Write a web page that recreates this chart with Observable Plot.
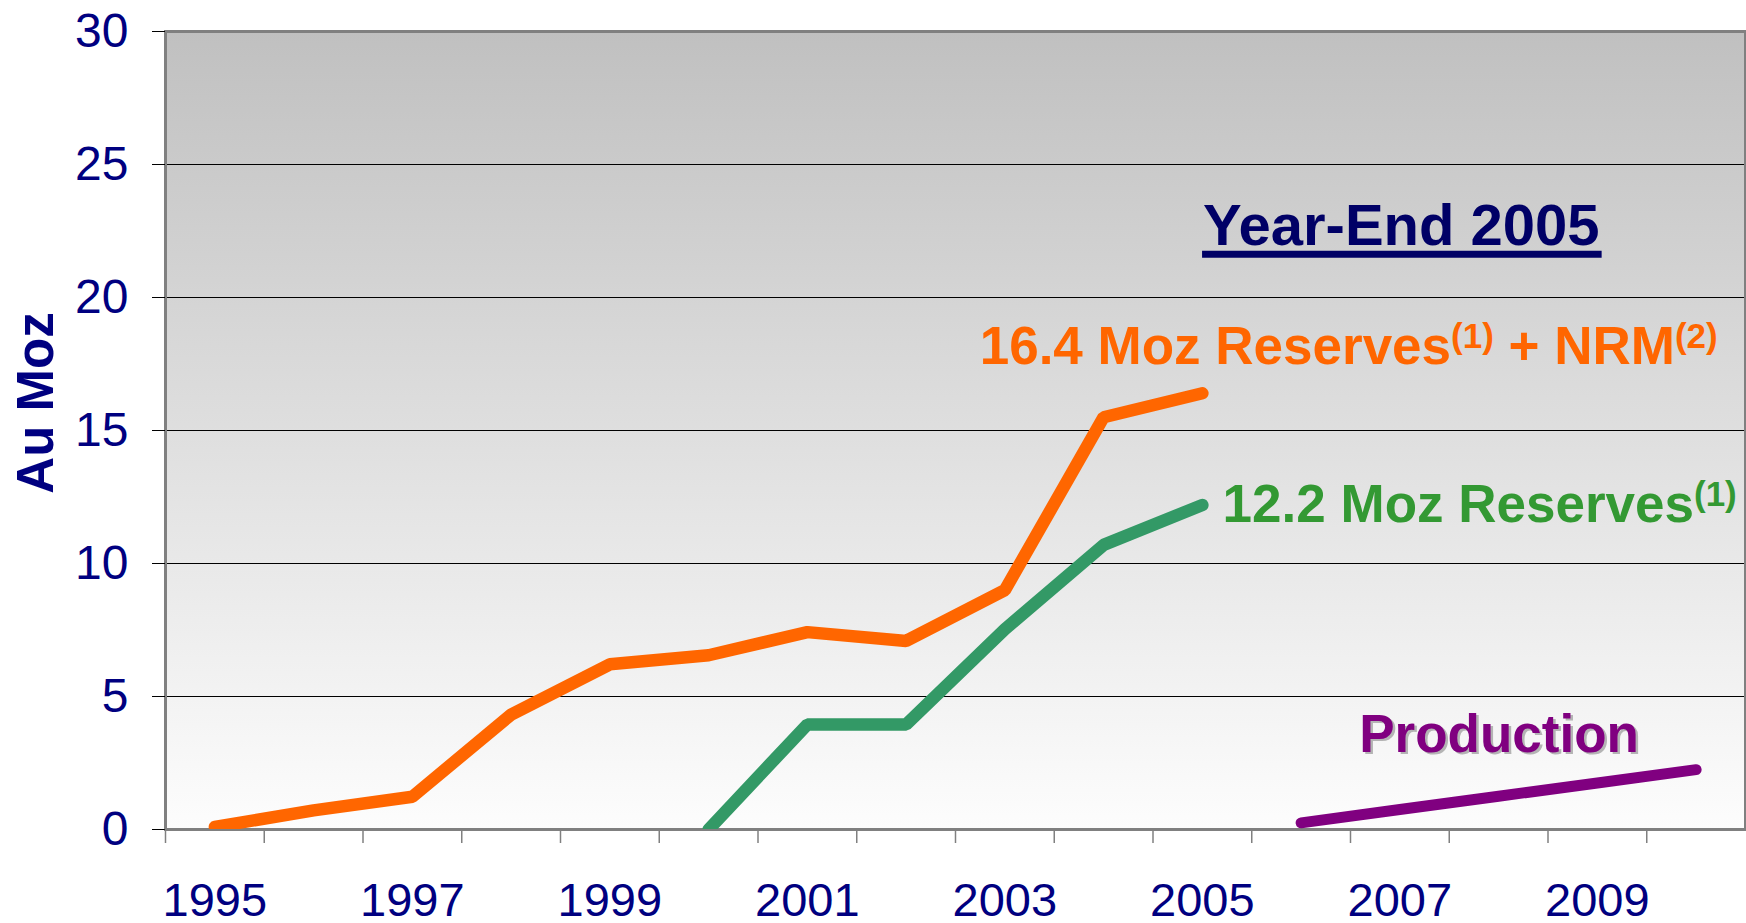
<!DOCTYPE html>
<html>
<head>
<meta charset="utf-8">
<script src="https://cdn.jsdelivr.net/npm/d3@7"></script>
<script src="https://cdn.jsdelivr.net/npm/@observablehq/plot@0.6"></script>
<style>
  html, body { margin: 0; padding: 0; background: #ffffff; }
  #chart svg { display: block; }
</style>
</head>
<body>
<div id="chart"></div>
<script>
// ---------- data ----------
const reservesNrmYears = [1995, 1996, 1997, 1998, 1999, 2000, 2001, 2002, 2003, 2004, 2005];
const reservesNrm      = [0.1, 0.72, 1.23, 4.32, 6.21, 6.55, 7.42, 7.09, 9.0, 15.5, 16.4];

const reservesYears = [2000, 2001, 2002, 2003, 2004, 2005];
const reserves      = [0, 3.95, 3.95, 7.53, 10.7, 12.2];

const productionYears = [2006, 2007, 2008, 2009, 2010];
const production      = [0.25, 0.75, 1.25, 1.75, 2.25];

const xDomain = [1994.5, 2010.5];
const xTickLabels = [1995, 1997, 1999, 2001, 2003, 2005, 2007, 2009];
const xTickMarks = [1994.5, 1995.5, 1996.5, 1997.5, 1998.5, 1999.5, 2000.5, 2001.5, 2002.5, 2003.5, 2004.5, 2005.5, 2006.5, 2007.5, 2008.5, 2009.5];
const yTicks = [0, 5, 10, 15, 20, 25, 30];
const yGrid = [5, 10, 15, 20, 25];
const yTitle = "Au Moz";

// annotation texts: [main, superscript, main, superscript ...]
const titleText = "Year-End 2005";
const nrmLabel = ["16.4 Moz Reserves", "(1)", " + NRM", "(2)"];
const reservesLabel = ["12.2 Moz Reserves", "(1)"];
const productionLabel = "Production";
// annotation anchors in data units (year, Moz)
const titleAt = [2007.02, 21.95];
const nrmLabelAt = [2002.75, 17.48];
const reservesLabelAt = [2005.21, 11.55];
const productionLabelAt = [2008.01, 2.91];

// ---------- styles ----------
const FONT = "'Liberation Sans', Arial, Helvetica, sans-serif";
const NAVY = "#000080";
const ORANGE = "#FF6600";
const GREEN_LINE = "#339966";
const GREEN_TEXT = "#339933";
const PURPLE = "#800080";

const toRows = (xs, vs) => xs.map((x, i) => ({year: x, value: vs[i]}));

const defs = () => {
  const d = d3.create("svg:defs");
  const lg = d.append("linearGradient").attr("id", "bgGrad")
    .attr("x1", 0).attr("y1", 0).attr("x2", 0).attr("y2", 1);
  lg.append("stop").attr("offset", "0%").attr("stop-color", "#C0C0C0");
  lg.append("stop").attr("offset", "100%").attr("stop-color", "#FDFDFD");
  return d.node();
};

function richText(g, parts, px, py, size, supSize, supRise, fill, anchor) {
  const t = g.append("text")
    .attr("x", px).attr("y", py)
    .attr("font-size", size)
    .attr("fill", fill)
    .attr("text-anchor", anchor || "start")
    .style("white-space", "pre");
  parts.forEach((p, i) => {
    const sup = i % 2 === 1;
    t.append("tspan")
      .attr("font-size", sup ? supSize : size)
      .attr("dy", sup ? -supRise : (i > 0 ? supRise : 0))
      .text(p);
  });
  return t;
}

function annotations(index, scales, values, dims) {
  const {x, y} = scales;
  const g = d3.create("svg:g")
    .attr("font-family", FONT)
    .attr("font-weight", "bold");

  // Y axis title
  const cy = (dims.marginTop + (dims.height - dims.marginBottom)) / 2 - 27;
  g.append("text")
    .attr("transform", `translate(${dims.marginLeft - 112},${cy}) rotate(-90)`)
    .attr("text-anchor", "middle")
    .attr("font-size", 51)
    .attr("fill", NAVY)
    .text(yTitle);

  // Title with underline
  const tx = x(titleAt[0]), ty = y(titleAt[1]);
  g.append("text")
    .attr("x", tx).attr("y", ty)
    .attr("text-anchor", "middle")
    .attr("font-size", 58)
    .attr("fill", "#000066")
    .text(titleText);
  const ctx = document.createElement("canvas").getContext("2d");
  ctx.font = `bold 58px ${FONT}`;
  const w = ctx.measureText(titleText).width;
  g.append("line")
    .attr("x1", tx - w / 2 - 1).attr("x2", tx + w / 2 + 2)
    .attr("y1", ty + 9).attr("y2", ty + 9)
    .attr("stroke", "#000066").attr("stroke-width", 7);

  // Series labels
  richText(g, nrmLabel, x(nrmLabelAt[0]), y(nrmLabelAt[1]), 53, 35, 16, ORANGE);
  richText(g, reservesLabel, x(reservesLabelAt[0]), y(reservesLabelAt[1]), 53, 35, 16, GREEN_TEXT);

  // Production with shadow
  const px = x(productionLabelAt[0]), py = y(productionLabelAt[1]);
  g.append("text").attr("x", px + 2.5).attr("y", py + 2.5)
    .attr("text-anchor", "middle").attr("font-size", 53)
    .attr("fill", "#B4B4B4").text(productionLabel);
  g.append("text").attr("x", px).attr("y", py)
    .attr("text-anchor", "middle").attr("font-size", 53)
    .attr("fill", PURPLE).text(productionLabel);
  return g.node();
}

const lineStyle = {x: "year", y: "value", strokeWidth: 12.5, strokeLinecap: "round", strokeLinejoin: "miter", clip: true};

const chart = Plot.plot({
  width: 1746,
  height: 923,
  marginLeft: 165,
  marginRight: 1,
  marginTop: 31,
  marginBottom: 94,
  style: {fontFamily: FONT, background: "transparent", overflow: "visible"},
  x: {domain: xDomain, axis: null},
  y: {domain: [0, 30], axis: null},
  marks: [
    defs,
    Plot.frame({fill: "url(#bgGrad)", stroke: null}),
    Plot.gridY({ticks: yGrid, stroke: "black", strokeOpacity: 1, strokeWidth: 1.2}),
    Plot.frame({stroke: "#808080", strokeWidth: 3}),
    Plot.line(toRows(reservesNrmYears, reservesNrm), {...lineStyle, stroke: ORANGE}),
    Plot.line(toRows(reservesYears, reserves), {...lineStyle, stroke: GREEN_LINE}),
    Plot.line(toRows(productionYears, production), {...lineStyle, stroke: PURPLE, strokeWidth: 11}),
    Plot.axisY({ticks: yTicks, tickSize: 13, tickPadding: 24, fontSize: 48, fill: NAVY, stroke: "black", label: null, tickFormat: d => String(d)}),
    Plot.axisX({ticks: xTickMarks, tickSize: 14, stroke: "#808080", strokeWidth: 1.5, tickFormat: () => "", label: null}),
    Plot.axisX({ticks: xTickLabels, tickSize: 0, tickPadding: 53, fontSize: 47, fill: NAVY, label: null, tickFormat: d => String(d)}),
    annotations
  ]
});
document.getElementById("chart").appendChild(chart);
</script>
</body>
</html>
